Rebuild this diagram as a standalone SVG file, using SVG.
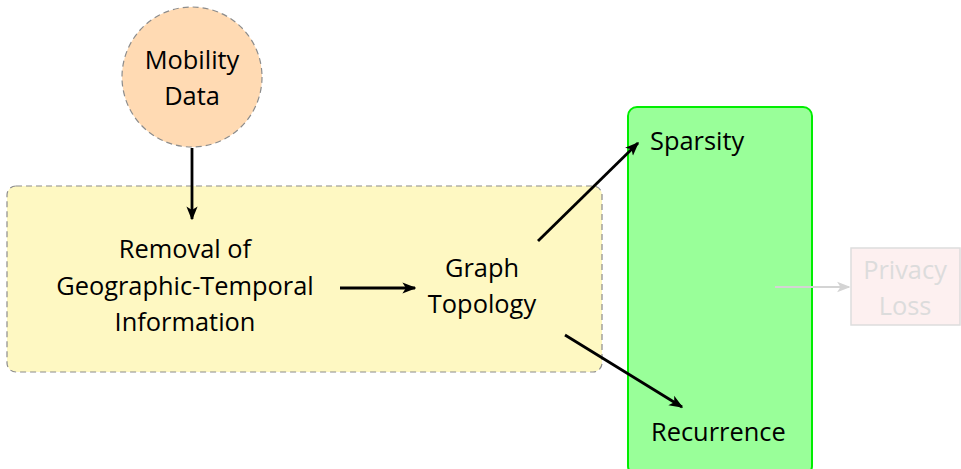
<svg xmlns="http://www.w3.org/2000/svg" width="961" height="469" viewBox="0 0 961 469">
  <style>
    .lbl { font-family: "Open Sans", "Liberation Sans", sans-serif; font-size: 25.4px; fill: #000; }
    .mid { text-anchor: middle; }
    .faint { fill: #dcdcdc; }
    .edge { stroke: #000; stroke-width: 2.8; fill: none; }
  </style>
  <defs>
    <marker id="arrow" viewBox="0 0 10 10" refX="9" refY="5" markerWidth="5" markerHeight="5" markerUnits="strokeWidth" orient="auto">
      <path d="M0,1 L10,5 L0,9 L2.5,5 Z" fill="#000"/>
    </marker>
    <marker id="arrowFaint" viewBox="0 0 10 10" refX="9" refY="5" markerWidth="6" markerHeight="6" markerUnits="strokeWidth" orient="auto">
      <path d="M0,1 L10,5 L0,9 L2.5,5 Z" fill="#d4d4d4"/>
    </marker>
  </defs>

  <!-- background containers -->
  <g id="pipeline">
    <rect x="7" y="186" width="595" height="186" rx="9" fill="#fef8c2" stroke="#8c8c8c" stroke-width="1.2" stroke-dasharray="6,4"/>
  </g>
  <g id="metrics">
    <rect x="628" y="107" width="184" height="368" rx="9" fill="#99ff99" stroke="#00ee00" stroke-width="2"/>
  </g>

  <g id="mobility">
    <circle cx="192" cy="77" r="70" fill="#ffdab3" stroke="#8c8c8c" stroke-width="1.2" stroke-dasharray="6,4"/>
    <text class="lbl mid" x="192" y="69">Mobility</text>
    <text class="lbl mid" x="192" y="105">Data</text>
  </g>

  <g id="removal">
    <text class="lbl mid" x="185" y="258">Removal of</text>
    <text class="lbl mid" x="185" y="295">Geographic-Temporal</text>
    <text class="lbl mid" x="185" y="331">Information</text>
  </g>

  <g id="graph">
    <text class="lbl mid" x="482" y="277">Graph</text>
    <text class="lbl mid" x="482" y="313">Topology</text>
  </g>

  <g id="sparsity">
    <text class="lbl" x="650" y="150">Sparsity</text>
  </g>

  <g id="recurrence">
    <text class="lbl" x="651" y="441">Recurrence</text>
  </g>

  <g id="privacy">
    <rect x="851" y="248" width="109" height="77" fill="#fdf0f0" stroke="#dddddd" stroke-width="1.5"/>
    <text class="lbl mid faint" x="905" y="279">Privacy</text>
    <text class="lbl mid faint" x="905" y="315">Loss</text>
  </g>

  <g id="connectors">
    <line class="edge" x1="192" y1="148" x2="192" y2="219" marker-end="url(#arrow)"/>
    <line class="edge" x1="340" y1="288" x2="415" y2="288" marker-end="url(#arrow)"/>
    <line class="edge" x1="538" y1="241" x2="638" y2="143" marker-end="url(#arrow)"/>
    <line class="edge" x1="565" y1="335" x2="682" y2="407" marker-end="url(#arrow)"/>
    <line x1="775" y1="287" x2="849" y2="287" stroke="#d4d4d4" stroke-width="2.2" marker-end="url(#arrowFaint)"/>
  </g>
</svg>
